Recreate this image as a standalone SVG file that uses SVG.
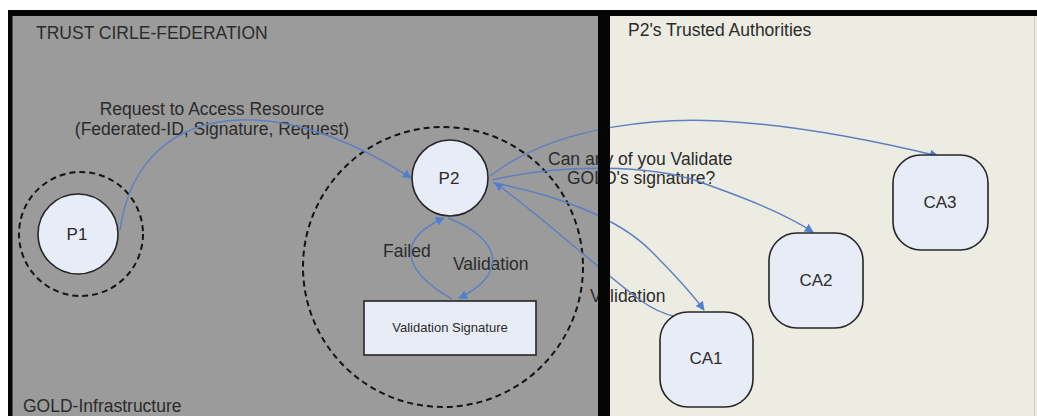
<svg xmlns="http://www.w3.org/2000/svg" width="1037" height="416" viewBox="0 0 1037 416">
  <defs>
    <style>
      text { font-family: "Liberation Sans", Arial, sans-serif; fill: #2b2b2b; }
      .lbl { font-size: 17.5px; }
      .nodeLbl { font-size: 17px; text-anchor: middle; }
      .small { font-size: 13px; text-anchor: middle; }
      .mid { text-anchor: middle; }
      .node { fill: #e8ecf7; stroke: #262626; stroke-width: 1.6; }
      .zone { fill: none; stroke: #141414; stroke-width: 2; stroke-dasharray: 6 4; }
      .edge { fill: none; stroke: #5b7fc2; stroke-width: 1.4; marker-end: url(#arrow); }
    </style>
    <marker id="arrow" viewBox="0 0 10 10" refX="9" refY="5" markerWidth="9" markerHeight="9" markerUnits="userSpaceOnUse" orient="auto">
      <path d="M0,0 L10,5 L0,10 Z" fill="#4f7fd0"/>
    </marker>
  </defs>

  <!-- page background -->
  <rect x="0" y="0" width="1037" height="416" fill="#ffffff"/>

  <!-- federation panel (left) and trusted authorities panel (right) -->
  <rect x="12" y="16" width="588" height="400" fill="#9b9b9b"/>
  <rect x="608" y="16" width="429" height="400" fill="#ecece2"/>
  <line x1="1034.5" y1="16" x2="1034.5" y2="416" stroke="#cfcfc6" stroke-width="1"/>

  <!-- panel titles -->
  <text class="lbl" x="36" y="39">TRUST CIRLE-FEDERATION</text>
  <text class="lbl" x="628" y="36">P2's Trusted Authorities</text>
  <text class="lbl" x="23" y="412">GOLD-Infrastructure</text>

  <!-- domain boundaries -->
  <circle class="zone" cx="81" cy="234" r="62"/>
  <circle class="zone" cx="443" cy="267" r="140"/>

  <!-- edge labels -->
  <text class="lbl mid" x="212" y="115">Request to Access Resource</text>
  <text class="lbl mid" x="212" y="135">(Federated-ID, Signature, Request)</text>
  <text class="lbl" x="548" y="165">Can any of you Validate</text>
  <text class="lbl" x="567" y="184">GOLD's signature?</text>
  <text class="lbl" x="383" y="257">Failed</text>
  <text class="lbl" x="453" y="270">Validation</text>
  <text class="lbl" x="590" y="302">Validation</text>

  <!-- connectors -->
  <g id="connectors">
    <path class="edge" d="M120,230 C130,160 175,122 240,120 C300,118 362,146 411,178"/>
    <path class="edge" d="M490,176 C560,122 670,118 720,121 C800,125 880,142 938,156"/>
    <path class="edge" d="M492,180 C560,164 650,164 700,182 C742,197 782,212 813,232"/>
    <path class="edge" d="M493,183 C560,195 620,220 650,250 C675,275 693,295 704,310"/>
    <path class="edge" d="M703,313 C690,322 665,318 640,300 C592,264 542,216 495,183"/>
    <path class="edge" d="M452,299 C404,272 394,240 444,218"/>
    <path class="edge" d="M448,218 C505,240 506,276 459,298"/>
  </g>

  <!-- nodes -->
  <g id="P1">
    <circle class="node" cx="78" cy="234" r="40"/>
    <text class="nodeLbl" x="77" y="240">P1</text>
  </g>
  <g id="P2">
    <circle class="node" cx="450" cy="178" r="38"/>
    <text class="nodeLbl" x="449" y="184">P2</text>
  </g>
  <g id="ValidationSignature">
    <rect class="node" x="364" y="301" width="172" height="54"/>
    <text class="small" x="450" y="332">Validation Signature</text>
  </g>
  <g id="CA1">
    <rect class="node" x="660" y="312" width="93" height="95" rx="28"/>
    <text class="nodeLbl" x="706" y="364">CA1</text>
  </g>
  <g id="CA2">
    <rect class="node" x="769" y="233" width="94" height="95" rx="28"/>
    <text class="nodeLbl" x="816" y="286">CA2</text>
  </g>
  <g id="CA3">
    <rect class="node" x="893" y="155" width="95" height="95" rx="28"/>
    <text class="nodeLbl" x="940" y="208">CA3</text>
  </g>

  <!-- frame: top and left borders, central divider -->
  <rect x="8" y="10" width="1029" height="6" fill="#050505"/>
  <rect x="8" y="10" width="4.5" height="406" fill="#050505"/>
  <rect x="598" y="10" width="12" height="406" fill="#050505"/>
</svg>
